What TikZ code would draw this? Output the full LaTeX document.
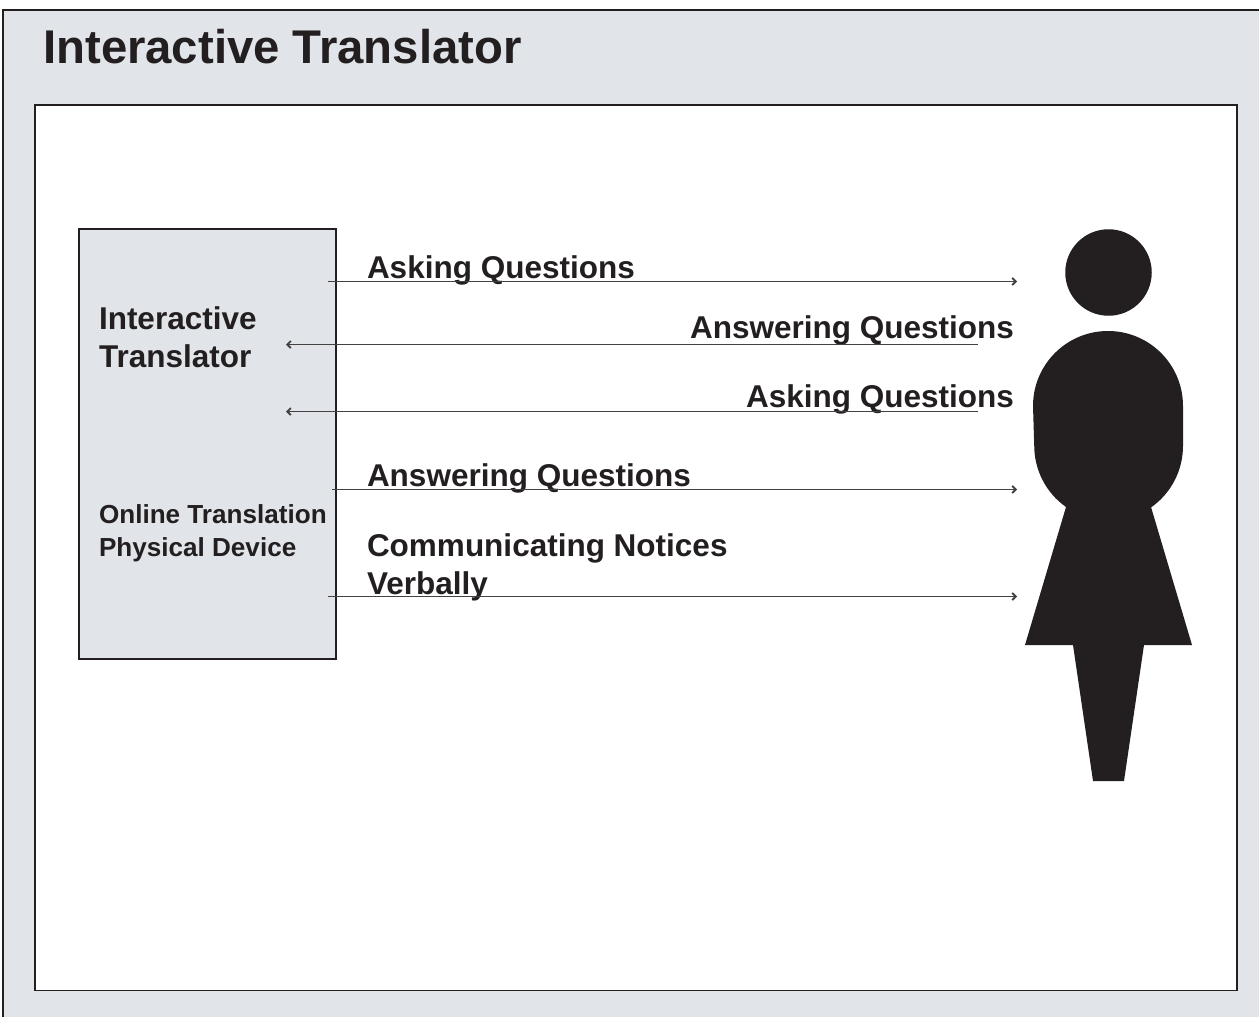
\documentclass[tikz,border=0pt]{standalone}
\usepackage{fontspec}
\setmainfont{Liberation Sans}
\usetikzlibrary{arrows.meta}
\definecolor{ink}{HTML}{231F20}
\definecolor{panel}{HTML}{E1E4E9}
\tikzset{
  framebox/.style={draw=ink,line width=1.5pt},
  label/.style={anchor=base west,inner sep=0pt,outer sep=0pt,text=ink,font=\bfseries\fontsize{31.5}{38}\selectfont,align=left},
  smalllabel/.style={anchor=base west,inner sep=0pt,outer sep=0pt,text=ink,font=\bfseries\fontsize{26.1}{33}\selectfont,align=left},
  flow/.style={draw=ink!85,line width=1pt,-{Straight Barb[length=3.5pt,width=7pt,line width=1.8pt]}},
  figure/.style={fill=ink,draw=none}
}
\begin{document}
\begin{tikzpicture}[x=1pt,y=-1pt]
\useasboundingbox (0,0) rectangle (1259,1017);
\fill[panel] (3,10) rectangle (1259,1017);
\draw[framebox] (3,1017) -- (3,10) -- (1259,10);
\node[draw=ink,line width=1.5pt,fill=white,minimum width=1202pt,minimum height=885.5pt,inner sep=0pt,anchor=north west] (inner) at (34,104) {};
\node[draw=ink,line width=1.5pt,fill=panel,minimum width=257pt,minimum height=430pt,inner sep=0pt,anchor=north west] (device) at (78,228) {};
\node[anchor=base west,inner sep=0pt,text=ink,font=\bfseries\fontsize{47.3}{54}\selectfont] (title) at (43,63) {Interactive Translator};
\node[label] (lt) at (99,329) {Interactive};
\node[label] (lt2) at (99,367) {Translator};
\node[smalllabel] (ld) at (99,523) {Online Translation};
\node[smalllabel] (ld2) at (99,556) {Physical Device};
\node[label] (a1) at (367,278) {Asking Questions};
\node[label,anchor=base east] (a2) at (1014,338) {Answering Questions};
\node[label,anchor=base east] (a3) at (1014,407) {Asking Questions};
\node[label] (a4) at (367,486) {Answering Questions};
\node[label] (a5) at (367,556) {Communicating Notices};
\node[label] (a6) at (367,594) {Verbally};
% person
\node[figure,circle,minimum size=86.5pt,inner sep=0pt] (head) at (1108.5,272.5) {};
\fill[figure] (1033,406) arc[start angle=180,end angle=360,radius=75] -- (1183,446)
  arc[start angle=0,end angle=54.8,radius=75] -- (1151,507) -- (1192,645) -- (1144,645) -- (1124,781) -- (1093,781) -- (1073,645) -- (1025,645) -- (1066,507)
  arc[start angle=125.2,end angle=180,radius=75] -- cycle;
\coordinate (r1a) at (328,281.5);
\coordinate (r1b) at (1017,281.5);
\coordinate (l1a) at (978,344.5);
\coordinate (l1b) at (286,344.5);
\coordinate (l2a) at (978,411.5);
\coordinate (l2b) at (286,411.5);
\coordinate (r2a) at (332,489.5);
\coordinate (r2b) at (1017,489.5);
\coordinate (r3a) at (328,596.5);
\coordinate (r3b) at (1017,596.5);
\draw[flow] (r1a) -- (r1b);
\draw[flow] (l1a) -- (l1b);
\draw[flow] (l2a) -- (l2b);
\draw[flow] (r2a) -- (r2b);
\draw[flow] (r3a) -- (r3b);
\end{tikzpicture}
\end{document}
